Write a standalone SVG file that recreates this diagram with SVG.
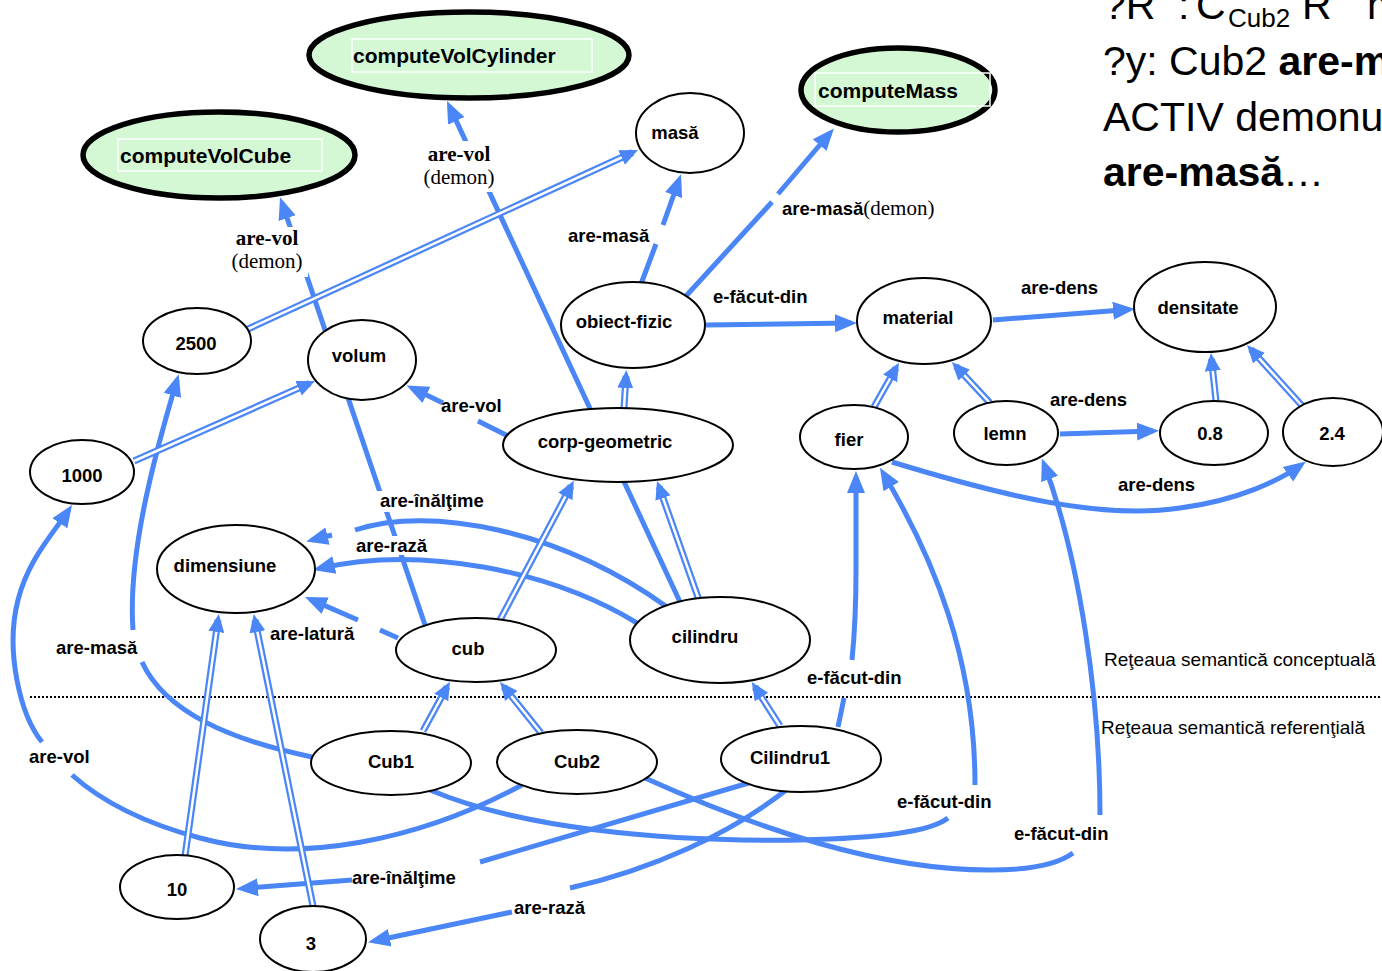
<svg xmlns="http://www.w3.org/2000/svg" width="1382" height="971" viewBox="0 0 1382 971">
<defs>
<marker id="ah" markerUnits="userSpaceOnUse" markerWidth="24" markerHeight="20" refX="16" refY="10" orient="auto"><path d="M0,1 L22,10 L0,19 z" fill="#4a86f6"/></marker>
<marker id="ahd" markerUnits="userSpaceOnUse" markerWidth="20" markerHeight="18" refX="12" refY="8" orient="auto"><path d="M0,0 L18,8 L0,16 z" fill="#4a86f6"/></marker>
<style>
.n ellipse{fill:#fff;stroke:#000;stroke-width:2}
.g ellipse{fill:#d4f8d4;stroke:#000;stroke-width:5.5}
.g rect{fill:none;stroke:#fff;stroke-width:1.5}
.t{font-family:"Liberation Sans",Arial,sans-serif;font-weight:bold;font-size:18.5px;fill:#000;text-anchor:middle}
.tg{font-family:"Liberation Sans",Arial,sans-serif;font-weight:bold;font-size:21px;fill:#000}
.e{fill:none;stroke:#4a86f6;stroke-width:5;marker-end:url(#ah)}
.d1{fill:none;stroke:#4a86f6;stroke-width:7}
.d2{fill:none;stroke:#fff;stroke-width:2.5}
.d3{fill:none;stroke:none;marker-end:url(#ahd)}
.bg{fill:#fff}
.l{font-family:"Liberation Sans",Arial,sans-serif;font-weight:bold;font-size:18.5px;fill:#000}
.s{font-family:"Liberation Serif","Times New Roman",serif;font-size:21px;fill:#000}
.sb{font-family:"Liberation Serif","Times New Roman",serif;font-size:21px;font-weight:bold;fill:#000}
.big{font-family:"Liberation Sans",Arial,sans-serif;font-size:41px;fill:#000}
.cap{font-family:"Liberation Sans",Arial,sans-serif;font-size:19px;fill:#000}
</style>
</defs>
<rect width="1382" height="971" fill="#fff"/>
<line x1="30" y1="697" x2="1382" y2="697" stroke="#000" stroke-width="2" stroke-dasharray="2,2"/>
<text class="cap" x="1104" y="666">Reţeaua semantică conceptuală</text>
<text class="cap" x="1101" y="734">Reţeaua semantică referenţială</text>
<g id="note">
<text class="big"><tspan x="1103" y="19">?R</tspan><tspan x="1158" y="-2" font-size="18">−1</tspan><tspan x="1178" y="19">:</tspan><tspan x="1196" y="19">C</tspan><tspan x="1228" y="27" font-size="26">Cub2</tspan><tspan x="1302" y="19">R</tspan><tspan x="1335" y="-2" font-size="18">−1</tspan><tspan x="1367" y="19">m</tspan></text>
<text class="big" x="1103" y="75">?y: Cub2 <tspan font-weight="bold">are-masă</tspan></text>
<text class="big" x="1103" y="131">ACTIV demonul</text>
<text class="big" x="1103" y="186"><tspan font-weight="bold">are-masă</tspan>…</text>
</g>
<g id="connectors">
<path class="e" d="M425,625 L282,203"/>
<path class="e" d="M680,602 L449.5,106.4"/>
<path class="e" d="M641,284 L656,244 M663,225 L679,180"/>
<path class="e" d="M686,296 L772,202 M778,194 L830,133"/>
<path class="e" d="M706,325 L851,323"/>
<path class="e" d="M993,320 L1129,309.5"/>
<path class="e" d="M508,436 L478,421 M443,403 L412,388"/>
<path class="e" d="M398,638 L380,630 M358,620 L310.5,599.4"/>
<path class="e" d="M667,607 C560,530 430,505 355,530 M332,535 L312,540"/>
<path class="e" d="M637,623 C550,570 420,545 318.8,568.6"/>
<path class="e" d="M312,757 C230,740 165,712 142,662 M133,630 C128,560 150,470 177,380"/>
<path class="e" d="M522,785 C420,840 300,865 200,838 C140,822 100,800 72,775 M42,742 C20,715 5,650 18,600 C28,560 52,535 68.7,510"/>
<path class="e" d="M430,790 C520,828 660,842 800,840 C880,838 930,832 948,818 M975,785 C975,660 935,560 883,473"/>
<path class="e" d="M645,778 C760,830 880,870 990,870 Q1050,870 1073,853 M1100,815 C1100,700 1080,560 1044,464"/>
<path class="e" d="M838,727 L844,698 M852,660 C855,630 856,600 856,570 L856,477"/>
<path class="e" d="M752,782 L480,862 M352,880 L242,888.5"/>
<path class="e" d="M790,787 C730,835 650,870 570,888 M512,912 L374,941"/>
<path class="e" d="M892,462 C1000,495 1100,520 1180,508 C1240,500 1280,480 1301,465"/>
<path class="e" d="M1060,434 L1153,431"/>
<g id="dbl">
<path class="d1" d="M248,329 L632.5,152.5"/><path class="d2" d="M248,329 L632.5,152.5"/><path class="d3" d="M248,329 L632.5,152.5"/>
<path class="d1" d="M134,461 L309.5,383.4"/><path class="d2" d="M134,461 L309.5,383.4"/><path class="d3" d="M134,461 L309.5,383.4"/>
<path class="d1" d="M624,408 L626,376"/><path class="d2" d="M624,408 L626,376"/><path class="d3" d="M624,408 L626,376"/>
<path class="d1" d="M874,407 L896,368"/><path class="d2" d="M874,407 L896,368"/><path class="d3" d="M874,407 L896,368"/>
<path class="d1" d="M990,403 L956,366.4"/><path class="d2" d="M990,403 L956,366.4"/><path class="d3" d="M990,403 L956,366.4"/>
<path class="d1" d="M1216,401 L1211.5,359"/><path class="d2" d="M1216,401 L1211.5,359"/><path class="d3" d="M1216,401 L1211.5,359"/>
<path class="d1" d="M1305,409 L1251,349.4"/><path class="d2" d="M1305,409 L1251,349.4"/><path class="d3" d="M1305,409 L1251,349.4"/>
<path class="d1" d="M500,620 L571,486"/><path class="d2" d="M500,620 L571,486"/><path class="d3" d="M500,620 L571,486"/>
<path class="d1" d="M700,603 L659,486.7"/><path class="d2" d="M700,603 L659,486.7"/><path class="d3" d="M700,603 L659,486.7"/>
<path class="d1" d="M423,731 L447,687"/><path class="d2" d="M423,731 L447,687"/><path class="d3" d="M423,731 L447,687"/>
<path class="d1" d="M541,733 L503.8,686.7"/><path class="d2" d="M541,733 L503.8,686.7"/><path class="d3" d="M541,733 L503.8,686.7"/>
<path class="d1" d="M780,726 L755,687"/><path class="d2" d="M780,726 L755,687"/><path class="d3" d="M780,726 L755,687"/>
<path class="d1" d="M185,856 L218,620"/><path class="d2" d="M185,856 L218,620"/><path class="d3" d="M185,856 L218,620"/>
<path class="d1" d="M313,906 L255,620"/><path class="d2" d="M313,906 L255,620"/><path class="d3" d="M313,906 L255,620"/>
</g>
<g id="labels">
<rect class="bg" x="228" y="227" width="80" height="50"/>
<text class="sb" x="267" y="245" text-anchor="middle">are-vol</text>
<text class="s" x="267" y="268" text-anchor="middle">(demon)</text>
<rect class="bg" x="419" y="141" width="80" height="51"/>
<text class="sb" x="459" y="161" text-anchor="middle">are-vol</text>
<text class="s" x="459" y="184" text-anchor="middle">(demon)</text>
<text class="l" x="568" y="242">are-masă</text>
<text x="782" y="215"><tspan class="l">are-masă</tspan><tspan class="s">(demon)</tspan></text>
<text class="l" x="713" y="303">e-făcut-din</text>
<text class="l" x="1021" y="294">are-dens</text>
<text class="l" x="441" y="412">are-vol</text>
<text class="l" x="1050" y="406">are-dens</text>
<text class="l" x="1118" y="491">are-dens</text>
<rect class="bg" x="376" y="491" width="116" height="21"/>
<text class="l" x="380" y="507">are-înălţime</text>
<rect class="bg" x="353" y="536" width="78" height="19"/>
<text class="l" x="356" y="552">are-rază</text>
<text class="l" x="270" y="640">are-latură</text>
<text class="l" x="56" y="654">are-masă</text>
<text class="l" x="29" y="763">are-vol</text>
<rect class="bg" x="805" y="667" width="100" height="22"/>
<text class="l" x="807" y="684">e-făcut-din</text>
<text class="l" x="897" y="808">e-făcut-din</text>
<text class="l" x="1014" y="840">e-făcut-din</text>
<text class="l" x="352" y="884">are-înălţime</text>
<text class="l" x="514" y="914">are-rază</text>
</g>
</g>
<g id="n-computeVolCylinder" class="g"><ellipse cx="469" cy="55" rx="160" ry="43"/><rect x="352" y="39" width="240" height="33"/><text class="tg" x="353" y="63">computeVolCylinder</text></g>
<g id="n-computeVolCube" class="g"><ellipse cx="219" cy="155" rx="136" ry="43"/><rect x="118" y="139" width="204" height="32"/><text class="tg" x="120" y="163">computeVolCube</text></g>
<g id="n-computeMass" class="g"><ellipse cx="898" cy="90" rx="97" ry="42"/><rect x="815" y="73" width="175" height="33"/><text class="tg" x="818" y="98">computeMass</text></g>
<g id="n-masa" class="n"><ellipse cx="690" cy="133" rx="54" ry="40"/><text class="t" x="675" y="139">masă</text></g>
<g id="n-obiect-fizic" class="n"><ellipse cx="633" cy="325" rx="72" ry="43"/><text class="t" x="624" y="328">obiect-fizic</text></g>
<g id="n-material" class="n"><ellipse cx="924" cy="321" rx="67" ry="43"/><text class="t" x="918" y="324">material</text></g>
<g id="n-densitate" class="n"><ellipse cx="1205" cy="307" rx="71" ry="45"/><text class="t" x="1198" y="314">densitate</text></g>
<g id="n-2500" class="n"><ellipse cx="197" cy="341" rx="54" ry="33"/><text class="t" x="196" y="350">2500</text></g>
<g id="n-volum" class="n"><ellipse cx="362" cy="360" rx="54" ry="40"/><text class="t" x="359" y="362">volum</text></g>
<g id="n-1000" class="n"><ellipse cx="82" cy="472" rx="52" ry="32"/><text class="t" x="82" y="482">1000</text></g>
<g id="n-corp-geometric" class="n"><ellipse cx="618" cy="445" rx="115" ry="37"/><text class="t" x="605" y="448">corp-geometric</text></g>
<g id="n-fier" class="n"><ellipse cx="854" cy="437" rx="54" ry="32"/><text class="t" x="849" y="446">fier</text></g>
<g id="n-lemn" class="n"><ellipse cx="1006" cy="433" rx="52" ry="32"/><text class="t" x="1005" y="440">lemn</text></g>
<g id="n-0.8" class="n"><ellipse cx="1214" cy="433" rx="54" ry="32"/><text class="t" x="1210" y="440">0.8</text></g>
<g id="n-2.4" class="n"><ellipse cx="1333" cy="432" rx="50" ry="34"/><text class="t" x="1332" y="440">2.4</text></g>
<g id="n-dimensiune" class="n"><ellipse cx="236" cy="569" rx="79" ry="44"/><text class="t" x="225" y="572">dimensiune</text></g>
<g id="n-cub" class="n"><ellipse cx="476" cy="650" rx="80" ry="32"/><text class="t" x="468" y="655">cub</text></g>
<g id="n-cilindru" class="n"><ellipse cx="720" cy="640" rx="90" ry="43"/><text class="t" x="705" y="643">cilindru</text></g>
<g id="n-Cub1" class="n"><ellipse cx="391" cy="763" rx="80" ry="32"/><text class="t" x="391" y="768">Cub1</text></g>
<g id="n-Cub2" class="n"><ellipse cx="577" cy="762" rx="80" ry="32"/><text class="t" x="577" y="768">Cub2</text></g>
<g id="n-Cilindru1" class="n"><ellipse cx="801" cy="759" rx="80" ry="33"/><text class="t" x="790" y="764">Cilindru1</text></g>
<g id="n-10" class="n"><ellipse cx="177" cy="887" rx="57" ry="32"/><text class="t" x="177" y="896">10</text></g>
<g id="n-3" class="n"><ellipse cx="313" cy="939" rx="53" ry="33"/><text class="t" x="311" y="950">3</text></g>
</svg>
